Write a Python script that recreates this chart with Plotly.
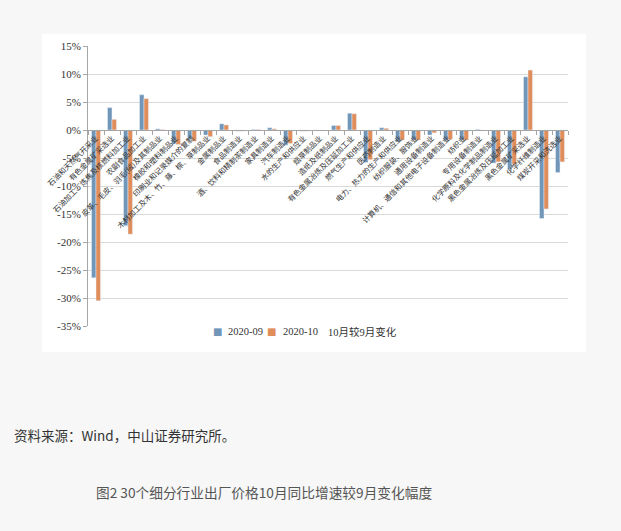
import plotly.graph_objects as go

categories = [
    "石油和天然气开采业", "有色金属矿采选业", "石油加工、炼焦及核燃料加工业", "农副食品加工业",
    "皮革、毛皮、羽毛(绒)及其制品业", "橡胶和塑料制品业", "印刷业和记录媒介的复制",
    "木材加工及木、竹、藤、棕、草制品业", "金属制品业", "食品制造业", "酒、饮料和精制茶制造业",
    "家具制造业", "汽车制造业", "水的生产和供应业", "烟草制品业", "造纸及纸制品业",
    "有色金属冶炼及压延加工业", "燃气生产和供应业", "医药制造业", "电力、热力的生产和供应业",
    "纺织服装、服饰业", "通用设备制造业", "计算机、通信和其他电子设备制造业", "纺织业",
    "专用设备制造业", "化学原料及化学制品制造业", "黑色金属冶炼及压延加工业",
    "黑色金属矿采选业", "化学纤维制造业", "煤炭开采和洗选业",
]
sep_2020 = [-26.4, 4.0, -17.1, 6.3, 0.2, -2.5, -1.6, -0.9, 1.1, -0.2, 0.1, 0.4, -2.7, -0.2, -0.1,
            0.8, 3.0, -5.8, 0.4, -2.1, -1.8, -0.9, -1.9, -1.8, 0.1, -5.9, -7.0, 9.5, -15.8, -7.6]
oct_2020 = [-30.5, 1.9, -18.6, 5.6, 0.1, -2.6, -2.0, -1.2, 0.9, -0.2, 0.1, 0.2, -2.4, -0.2, -0.1,
            0.8, 2.9, -5.3, 0.3, -1.8, -1.8, -0.5, -1.7, -1.8, 0.0, -5.7, -6.1, 10.7, -14.1, -5.7]
change = [o - s for o, s in zip(oct_2020, sep_2020)]
series_names = ["2020-09", "2020-10", "10月较9月变化"]
y_ticks = [15, 10, 5, 0, -5, -10, -15, -20, -25, -30, -35]

BLUE = "#7196b8"
ORANGE = "#e08d5a"
series_colors = [BLUE, ORANGE, "rgba(0,0,0,0)"]

fig = go.Figure()
fig.add_trace(go.Bar(x=categories, y=sep_2020, name=series_names[0], marker_color=BLUE))
fig.add_trace(go.Bar(x=categories, y=oct_2020, name=series_names[1], marker_color=ORANGE))
fig.add_trace(go.Scatter(x=categories, y=change, name=series_names[2], mode="lines",
                         line=dict(color="rgba(0,0,0,0)", width=1)))

# legend drawn as text (compact, Excel style)
legend_sym_x = [0.269, 0.383, None]
legend_txt_x = [0.2875, 0.402, 0.496]
LEG_Y = -0.0214
annotations = []
for name, color, sx, tx in zip(series_names, series_colors, legend_sym_x, legend_txt_x):
    if sx is not None:
        annotations.append(dict(text="■", xref="paper", yref="paper", x=sx, y=LEG_Y,
                                xanchor="center", yanchor="middle", showarrow=False,
                                font=dict(size=10, color=color, family="DejaVu Sans")))
    annotations.append(dict(text=name, xref="paper", yref="paper", x=tx, y=LEG_Y,
                            xanchor="left", yanchor="middle", showarrow=False,
                            font=dict(size=10.5, color="#333333",
                                      family="Liberation Serif, Noto Sans CJK SC")))

annotations += [
    dict(text="资料来源：Wind，中山证券研究所。", xref="paper", yref="paper",
         x=-0.158, y=-0.39, xanchor="left", yanchor="middle", showarrow=False,
         font=dict(family="Noto Sans CJK SC", size=13.5, color="#333333")),
    dict(text="图2 30个细分行业出厂价格10月同比增速较9月变化幅度", xref="paper", yref="paper",
         x=0.367, y=-0.593, xanchor="center", yanchor="middle", showarrow=False,
         font=dict(family="Noto Sans CJK SC", size=13.7, color="#555555")),
]

fig.update_layout(
    width=621, height=531,
    margin=dict(l=88, r=53, t=46, b=205),
    paper_bgcolor="#f7f7f7",
    plot_bgcolor="#ffffff",
    barmode="group",
    bargap=0.44,
    bargroupgap=0,
    font=dict(family="Liberation Serif, Noto Sans CJK SC", color="#333333"),
    showlegend=False,
    shapes=[dict(type="rect", xref="paper", yref="paper", x0=-0.0958, x1=1.0375,
                 y0=-0.0929, y1=1.0429, fillcolor="#ffffff", line=dict(width=0), layer="below")],
    annotations=annotations,
)

fig.update_xaxes(
    type="category", range=[-0.5, len(categories) - 0.5],
    anchor="free", position=0.7,
    showline=True, linecolor="#a6a6a6", linewidth=1,
    ticks="outside", tickson="boundaries", ticklen=4, tickcolor="#a6a6a6",
    tickangle=-45, showgrid=False,
    tickfont=dict(family="Noto Sans CJK SC", size=7.5, color="#333333"),
)
fig.update_yaxes(
    range=[-35, 15], tickvals=y_ticks, ticktext=[f"{v}%" for v in y_ticks],
    showline=True, linecolor="#a6a6a6", linewidth=1,
    ticks="outside", ticklen=4, tickcolor="#a6a6a6",
    showgrid=True, gridcolor="#d9d9d9", gridwidth=1, zeroline=False,
    tickfont=dict(family="Liberation Serif", size=11, color="#333333"),
)

fig.write_html("out.html", config={"displayModeBar": False},
               post_script="document.body.style.margin='0';")
